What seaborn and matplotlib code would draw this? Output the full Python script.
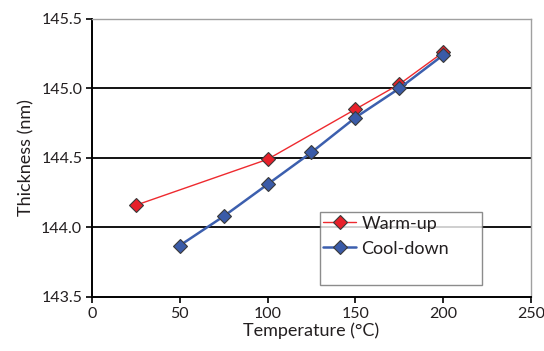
import matplotlib
matplotlib.use("Agg")
import matplotlib.pyplot as plt
import seaborn as sns
import pandas as pd
from matplotlib.lines import Line2D

warm_temp = [25, 100, 150, 175, 200]
warm_thick = [144.16, 144.49, 144.85, 145.03, 145.26]
cool_temp = [50, 75, 100, 125, 150, 175, 200]
cool_thick = [143.87, 144.08, 144.31, 144.54, 144.79, 145.00, 145.24]
x_ticks = [0, 50, 100, 150, 200, 250]
y_ticks = [143.5, 144.0, 144.5, 145.0, 145.5]

sns.set_theme(style="white")
plt.rcParams['font.family'] = ['Lato', 'DejaVu Sans']
txt = "#231f20"

fig = plt.figure(figsize=(5.44, 3.51), dpi=100)
ax = fig.add_axes([0.169, 0.154, 0.807, 0.792])

for v in [144.0, 144.5, 145.0]:
    ax.axhline(v, color="black", lw=1.3, zorder=1)

mk = dict(marker="D", markersize=7.5, markeredgecolor="#3a3a3a", markeredgewidth=0.8)
warm = pd.DataFrame({"t": warm_temp, "y": warm_thick})
cool = pd.DataFrame({"t": cool_temp, "y": cool_thick})
sns.lineplot(data=warm, x="t", y="y", ax=ax, color="#ee2a2f", lw=1.0,
             markerfacecolor="#e8202a", zorder=3, **mk)
sns.lineplot(data=cool, x="t", y="y", ax=ax, color="#3c5fae", lw=1.8,
             markerfacecolor="#3a5ba8", zorder=4, **mk)

ax.set_xlim(0, 250)
ax.set_ylim(143.5, 145.5)
ax.set_xticks(x_ticks)
ax.set_yticks(y_ticks)
ax.set_yticklabels([f"{v:.1f}" for v in y_ticks])
ax.tick_params(axis="both", direction="out", length=4, width=1.2, color="black",
               labelsize=11.5, labelcolor=txt, bottom=True, left=True, pad=3)
ax.set_xlabel("Temperature (°C)", fontsize=13, color=txt, labelpad=1)
ax.set_ylabel("Thickness (nm)", fontsize=13, color=txt, labelpad=5)

for s in ["left", "bottom"]:
    ax.spines[s].set_color("black")
    ax.spines[s].set_linewidth(1.4)
for s in ["top", "right"]:
    ax.spines[s].set_color("#a0a0a0")
    ax.spines[s].set_linewidth(1.0)

h1 = Line2D([], [], color="#ee2a2f", lw=1.0, markerfacecolor="#e8202a", **mk)
h2 = Line2D([], [], color="#3c5fae", lw=1.8, markerfacecolor="#3a5ba8", **mk)
h3 = Line2D([], [], alpha=0)
leg = ax.legend([h1, h2, h3], ["Warm-up", "Cool-down", " "], loc="upper left",
                bbox_to_anchor=(0.519, 0.061, 0.369, 0.244), mode="expand",
                frameon=True, fancybox=False,
                edgecolor="#707070", fontsize=13, handlelength=1.8,
                handletextpad=0.3, labelspacing=0.5, borderpad=0.2,
                borderaxespad=0)
leg.get_frame().set_linewidth(1.0)
for t in leg.get_texts():
    t.set_color(txt)

fig.savefig("out.png", dpi=100, facecolor="white")
